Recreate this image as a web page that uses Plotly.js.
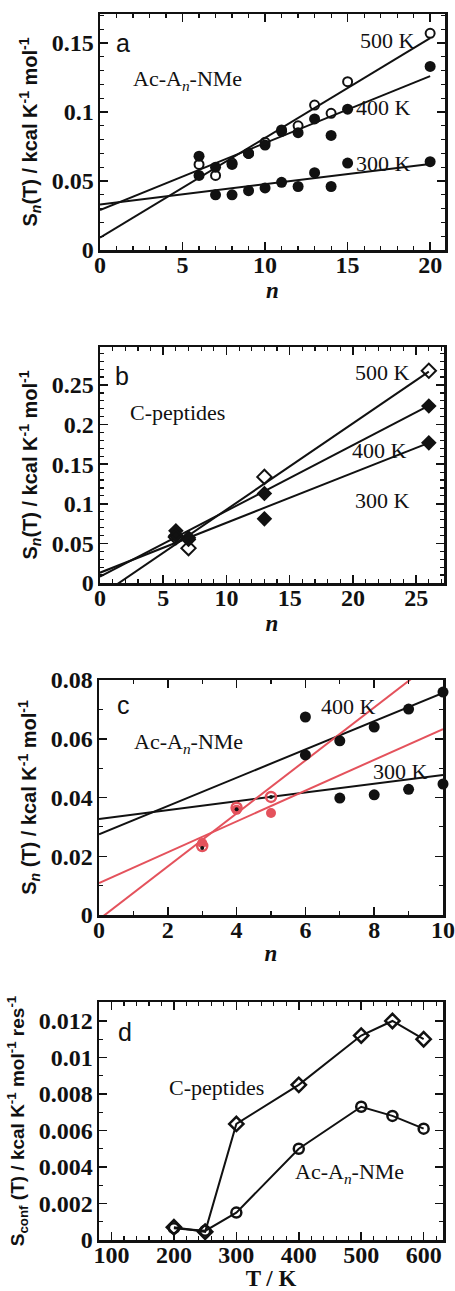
<!DOCTYPE html>
<html>
<head>
<meta charset="utf-8">
<script src="https://cdn.plot.ly/plotly-3.0.1.min.js"></script>
<style>html,body{margin:0;padding:0;background:#fff;}#chart{width:455px;height:1291px;}</style>
</head>
<body>
<div id="chart"></div>
<script>
// ---------- Panel a: Ac-An-NMe, S_n(T) vs n ----------
const aN500 = [6, 7, 8, 9, 10, 11, 12, 13, 14, 15, 20];
const aS500 = [0.062, 0.054, 0.063, 0.070, 0.078, 0.087, 0.090, 0.105, 0.099, 0.122, 0.157];
const aN400 = [6, 7, 8, 9, 10, 11, 12, 13, 14, 15, 20];
const aS400 = [0.068, 0.060, 0.062, 0.070, 0.076, 0.086, 0.085, 0.095, 0.083, 0.102, 0.133];
const aN300 = [6, 7, 8, 9, 10, 11, 12, 13, 14, 15, 20];
const aS300 = [0.054, 0.040, 0.040, 0.043, 0.045, 0.049, 0.046, 0.056, 0.046, 0.063, 0.064];
const aFitN = [0, 20];
const aFit500 = [0.009, 0.1535];
const aFit400 = [0.029, 0.126];
const aFit300 = [0.033, 0.0623];

// ---------- Panel b: C-peptides ----------
const bN = [6, 7, 13, 26];
const bS500 = [0.058, 0.044, 0.134, 0.268];
const bS400 = [0.066, 0.057, 0.113, 0.2235];
const bS300 = [0.060, 0.055, 0.081, 0.177];
const bFitN = [0, 26];
const bFit500 = [-0.0163, 0.267];
const bFit400 = [0.008, 0.224];
const bFit300 = [0.013, 0.177];

// ---------- Panel c: Ac-An-NMe (short chains) ----------
const cN400 = [6, 6, 7, 8, 9, 10];
const cS400 = [0.0674, 0.0545, 0.0593, 0.064, 0.0701, 0.0759];
const cN300 = [7, 8, 9, 10];
const cS300 = [0.0398, 0.0409, 0.0428, 0.0446];
const cNred = [3, 4, 5];
const cSred400 = [0.0235, 0.0365, 0.0402];
const cSred300 = [0.0245, 0.0358, 0.0347];
const cSdot = [0.0228, 0.0360, 0.0402];
const cFitN = [0, 10];
const cFit400 = [0.0275, 0.0756];
const cFit300 = [0.0327, 0.0477];
const cFitRedSteep = [-0.0015, 0.0887];
const cFitRedShallow = [0.0109, 0.0633];

// ---------- Panel d: S_conf(T) vs T ----------
const dT = [200, 250, 300, 400, 500, 550, 600];
const dCpep = [0.0007, 0.00045, 0.00636, 0.0085, 0.0112, 0.0120, 0.0110];
const dAcAn = [0.00065, 0.0005, 0.0015, 0.0050, 0.0073, 0.0068, 0.0061];

const BLACK = '#111';
const RED = '#e4525c';
const SERIF = '"Liberation Serif", "Times New Roman", Times, serif';
const SANS = '"Liberation Sans", Arial, Helvetica, sans-serif';
const NARROW = '"Liberation Sans Narrow", "Liberation Sans", Arial, sans-serif';

function fit(x, y, xa, ya, color) {
  return {x: x, y: y, xaxis: xa, yaxis: ya, mode: 'lines', type: 'scatter',
          line: {color: color || BLACK, width: 2}, hoverinfo: 'skip'};
}
function pts(x, y, xa, ya, symbol, size, color, lw) {
  return {x: x, y: y, xaxis: xa, yaxis: ya, mode: 'markers', type: 'scatter', cliponaxis: false,
          marker: {symbol: symbol, size: size, color: color || BLACK,
                   line: {color: color || BLACK, width: lw === undefined ? 0 : lw}}};
}

const traces = [
  // a
  fit(aFitN, aFit500, 'x', 'y'), fit(aFitN, aFit400, 'x', 'y'), fit(aFitN, aFit300, 'x', 'y'),
  pts(aN300, aS300, 'x', 'y', 'circle', 11),
  pts(aN400, aS400, 'x', 'y', 'circle', 11),
  pts(aN500, aS500, 'x', 'y', 'circle-open', 9, BLACK, 2),
  // b
  fit(bFitN, bFit500, 'x2', 'y2'), fit(bFitN, bFit400, 'x2', 'y2'), fit(bFitN, bFit300, 'x2', 'y2'),
  pts(bN, bS300, 'x2', 'y2', 'diamond', 12),
  pts(bN, bS400, 'x2', 'y2', 'diamond', 12),
  pts(bN, bS500, 'x2', 'y2', 'diamond-open', 11, BLACK, 2),
  // c
  fit(cFitN, cFit400, 'x3', 'y3'), fit(cFitN, cFit300, 'x3', 'y3'),
  fit(cFitN, cFitRedSteep, 'x3', 'y3', RED), fit(cFitN, cFitRedShallow, 'x3', 'y3', RED),
  pts(cN400, cS400, 'x3', 'y3', 'circle', 11),
  pts(cN300, cS300, 'x3', 'y3', 'circle', 11),
  pts(cNred, cSred300, 'x3', 'y3', 'circle', 10, RED),
  pts(cNred, cSred400, 'x3', 'y3', 'circle-open', 10, RED, 2.5),
  pts(cNred, cSdot, 'x3', 'y3', 'circle', 4, BLACK),
  // d
  {x: dT, y: dCpep, xaxis: 'x4', yaxis: 'y4', mode: 'lines+markers', type: 'scatter', cliponaxis: false,
   line: {color: BLACK, width: 2}, marker: {symbol: 'diamond-open', size: 11, color: BLACK, line: {color: BLACK, width: 2.5}}},
  {x: dT, y: dAcAn, xaxis: 'x4', yaxis: 'y4', mode: 'lines+markers', type: 'scatter', cliponaxis: false,
   line: {color: BLACK, width: 2}, marker: {symbol: 'circle-open', size: 10, color: BLACK, line: {color: BLACK, width: 2.5}}}
];

function yTop(px) { return 1 - px / 1291; }

function xAxis(domL, domR, range, dtick, minorDtick, anchor, titleText, titleStandoff) {
  return {
    domain: [domL / 455, domR / 455], range: range, anchor: anchor,
    dtick: dtick, ticks: 'inside', ticklen: 8, tickwidth: 1.5, tickcolor: BLACK,
    minor: {dtick: minorDtick, ticks: 'inside', ticklen: 4, tickwidth: 1.2, tickcolor: BLACK},
    showline: true, linecolor: BLACK, linewidth: 2.5, mirror: 'allticks',
    showgrid: false, zeroline: false, fixedrange: true,
    ticklabelstandoff: -8,
    tickfont: {family: SERIF, size: 24, color: BLACK, weight: 'bold'},
    title: {text: titleText, standoff: titleStandoff, font: {family: SERIF, size: 23, color: BLACK, weight: 'bold'}}
  };
}
function yAxis(top, bottom, range, dtick, minorDtick, anchor, titleText, titleSize) {
  return {
    domain: [yTop(bottom), yTop(top)], range: range, anchor: anchor,
    dtick: dtick, ticks: 'inside', ticklen: 8, tickwidth: 1.5, tickcolor: BLACK,
    minor: {dtick: minorDtick, ticks: 'inside', ticklen: 4, tickwidth: 1.2, tickcolor: BLACK},
    showline: true, linecolor: BLACK, linewidth: 2.5, mirror: 'allticks',
    showgrid: false, zeroline: false, fixedrange: true,
    ticklabelstandoff: -1,
    tickfont: {family: SERIF, size: 24, color: BLACK, weight: 'bold'},
    title: {text: titleText, standoff: 9, font: {family: NARROW, size: titleSize, color: BLACK, weight: 'bold'}}
  };
}

function note(text, x, y, xa, ya, font) {
  return {text: text, x: x, y: y, xref: xa, yref: ya, showarrow: false,
          xanchor: 'center', yanchor: 'middle', font: font};
}
const labFont = {family: SERIF, size: 22, color: BLACK};
const letFont = {family: SANS, size: 25, color: BLACK};
const AcAn = 'Ac-A<sub><i>n</i></sub>-NMe';

const layout = {
  width: 455, height: 1291,
  margin: {l: 0, r: 0, t: 0, b: 0},
  paper_bgcolor: '#fff', plot_bgcolor: '#fff',
  showlegend: false,
  xaxis: xAxis(100, 445, [0, 20.9], 5, 1, 'y', '<i>n</i>', 3),
  yaxis: yAxis(14, 250, [0, 0.171], 0.05, 0.01, 'x', 'S<sub><i>n</i></sub>(T) / kcal K<sup>-1</sup> mol<sup>-1</sup>', 20),
  xaxis2: xAxis(100, 444, [0, 27.2], 5, 1, 'y2', '<i>n</i>', 3),
  yaxis2: yAxis(347, 583, [0, 0.298], 0.05, 0.01, 'x2', 'S<sub><i>n</i></sub>(T) / kcal K<sup>-1</sup> mol<sup>-1</sup>', 20),
  xaxis3: xAxis(99, 443, [0, 10], 2, 1, 'y3', '<i>n</i>', 3),
  yaxis3: yAxis(680, 915, [0, 0.08], 0.02, 0.01, 'x3', 'S<sub><i>n</i></sub> (T) / kcal K<sup>-1</sup> mol<sup>-1</sup>', 20),
  xaxis4: xAxis(99, 443, [80, 631], 100, 20, 'y4', 'T / K', 0),
  yaxis4: yAxis(1002, 1240, [0, 0.01304], 0.002, 0.001, 'x4', 'S<sub>conf</sub> (T) / kcal K<sup>-1</sup> mol<sup>-1</sup> res<sup>-1</sup>', 19),
  annotations: [
    note('a', 1.4, 0.150, 'x', 'y', letFont),
    note(AcAn, 5.33, 0.123, 'x', 'y', labFont),
    note('500 K', 17.4, 0.152, 'x', 'y', labFont),
    note('400 K', 17.15, 0.103, 'x', 'y', labFont),
    note('300 K', 17.15, 0.063, 'x', 'y', labFont),

    note('b', 1.75, 0.262, 'x2', 'y2', letFont),
    note('C-peptides', 6.1, 0.215, 'x2', 'y2', labFont),
    note('500 K', 22.3, 0.266, 'x2', 'y2', labFont),
    note('400 K', 22.1, 0.1675, 'x2', 'y2', labFont),
    note('300 K', 22.3, 0.1045, 'x2', 'y2', labFont),

    note('c', 0.7, 0.0715, 'x3', 'y3', letFont),
    note(AcAn, 2.59, 0.0586, 'x3', 'y3', labFont),
    note('400 K', 7.24, 0.0711, 'x3', 'y3', labFont),
    note('300 K', 8.75, 0.0487, 'x3', 'y3', labFont),

    note('d', 121, 0.0114, 'x4', 'y4', letFont),
    note('C-peptides', 268, 0.00838, 'x4', 'y4', labFont),
    note(AcAn, 481, 0.00367, 'x4', 'y4', labFont)
  ]
};

Plotly.newPlot('chart', traces, layout, {staticPlot: true, displayModeBar: false});
</script>
</body>
</html>
